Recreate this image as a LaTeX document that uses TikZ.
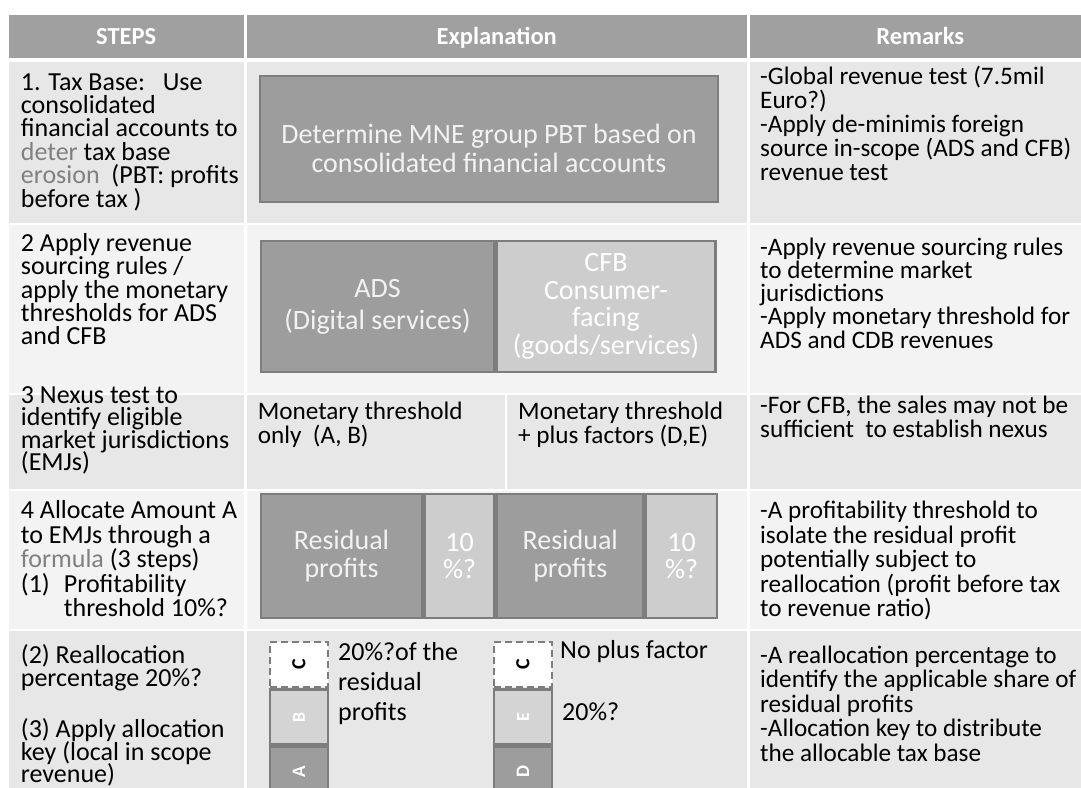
\documentclass[tikz,border=0pt]{standalone}
\usepackage{fontspec}
\setmainfont{Carlito}
\usepackage{tikz}
\definecolor{HeadGray}{RGB}{160,160,160}
\definecolor{RowDark}{RGB}{231,231,231}
\definecolor{RowLight}{RGB}{243,243,243}
\definecolor{BoxDark}{RGB}{157,157,157}
\definecolor{BoxLight}{RGB}{205,205,205}
\definecolor{StackLight}{RGB}{212,212,212}
\definecolor{BoxEdge}{RGB}{125,125,125}
\definecolor{BoxText}{RGB}{242,242,242}
\definecolor{SoftText}{RGB}{128,128,128}
% slide-like tight line spacing
\lineskiplimit=-100pt

\begin{document}
\begin{tikzpicture}[x=1pt, y=-1pt,
    headcell/.style={fill=HeadGray, text=white, inner sep=0pt, minimum height=43.5pt,
                     text height=16pt, text depth=0pt, anchor=base,
                     font=\bfseries\fontsize{24.5}{26}\selectfont},
    % texts are placed by the baseline of their last line
    txt/.style={anchor=base west, align=left, inner sep=0pt, text=black,
                font=\fontsize{26}{#1}\selectfont},
    txt/.default=24,
    rtxt/.style={txt, font=\fontsize{25.2}{#1}\selectfont},
    rtxt/.default=24,
    bigbox/.style={draw=BoxEdge, fill=BoxDark, line width=2.5pt, inner sep=0pt,
                   align=center, text=BoxText, font=\fontsize{28}{#1}\selectfont},
    bigbox/.default=28,
    smallbox/.style={bigbox=#1, fill=BoxLight, text=white},
    smallbox/.default=28,
    boxtxt/.style={anchor=base, align=center, inner sep=0pt, text=BoxText,
                   font=\fontsize{28}{29}\selectfont},
    stackb/.style={draw=BoxEdge, fill=StackLight, line width=2.5pt, inner sep=0pt,
                   minimum width=58pt, minimum height=55pt, text=white,
                   font=\bfseries\fontsize{18}{18}\selectfont},
    stacka/.style={stackb, fill=BoxDark, minimum height=50pt,
                   font=\bfseries\fontsize{19}{19}\selectfont},
    stackc/.style={stackb, fill=white, draw=BoxEdge, dash pattern=on 7pt off 4pt,
                   minimum height=45pt, text=black,
                   font=\bfseries\fontsize{20}{20}\selectfont}
  ]
  \clip (0,0) rectangle (1081,787);
  \fill[white] (0,0) rectangle (1081,787);

  % header
  \node[headcell, minimum width=235.5pt] (hsteps) at (126.25,44.5) {STEPS};
  \node[headcell, minimum width=500.5pt] (hexpl) at (496.75,44.5) {Explanation};
  \node[headcell, minimum width=341.5pt] (hrem) at (920.25,44.5) {Remarks};

  % row backgrounds
  \foreach \ytop/\ybot/\shade in {62/223/RowDark, 225/393/RowLight, 395/489/RowDark,
                                  491/629/RowLight, 631/800/RowDark} {
    \fill[\shade] (8.5,\ytop) rectangle (244,\ybot);
    \fill[\shade] (246.5,\ytop) rectangle (747,\ybot);
    \fill[\shade] (749.5,\ytop) rectangle (1095,\ybot);
  }
  \fill[white] (504.5,395) rectangle (506.5,489);

  % row 1
  \node[txt=23.4] (s1) at (20.7,207) {1. Tax Base:~~~Use\\consolidated\\financial accounts to\\{\color{SoftText}deter} tax base\\{\color{SoftText}erosion}~~(PBT: profits\\before tax )};
  \node[bigbox, minimum width=458pt, minimum height=126pt] (pbt) at (489,139) {};
  \node[boxtxt] (pbttext) at (489,172) {Determine MNE group PBT based on\\consolidated financial accounts};
  \node[rtxt=24.2] (r1) at (760,180.8) {-Global revenue test (7.5mil\\Euro?)\\-Apply de-minimis foreign\\source in-scope (ADS and CFB)\\revenue test};

  % row 2
  \node[txt=23.3] (s2) at (20.7,344.8) {2 Apply revenue\\sourcing rules /\\apply the monetary\\thresholds for ADS\\and CFB};
  \node[bigbox=32, minimum width=233pt, minimum height=131pt] (ads) at (377.5,306.5) {ADS\\(Digital services)};
  \node[smallbox=27.5, minimum width=219pt, minimum height=131pt, anchor=west] (cfb) at (ads.east) {CFB\\Consumer-\\facing\\(goods/services)};
  \node[rtxt=23.3] (r2) at (760,348.2) {-Apply revenue sourcing rules\\to determine market\\jurisdictions\\-Apply monetary threshold for\\ADS and CDB revenues};

  % row 3
  \node[txt=22.4] (s3) at (20.7,470.7) {3 Nexus test to\\identify eligible\\market jurisdictions\\(EMJs)};
  \node[rtxt] (e3a) at (257.6,443) {Monetary threshold\\only~~(A, B)};
  \node[rtxt] (e3b) at (518,443) {Monetary threshold\\+ plus factors (D,E)};
  \node[rtxt] (r3) at (760,437.8) {-For CFB, the sales may not be\\sufficient~~to establish nexus};

  % row 4
  \node[txt=24.5] (s4) at (20.7,616.8) {4 Allocate Amount A\\to EMJs through a\\{\color{SoftText}formula} (3 steps)\\\makebox[43pt][l]{(1)}Profitability\\\hspace*{43pt}threshold 10\%?};
  \node[bigbox=27.5, minimum width=161pt, minimum height=124pt] (res1) at (341.5,556) {Residual\\profits};
  \node[smallbox=27.5, minimum width=70pt, minimum height=124pt, anchor=west] (pct1) at (res1.east) {10\\\%?};
  \node[bigbox=27.5, minimum width=146.5pt, minimum height=124pt, anchor=west] (res2) at (pct1.east) {Residual\\profits};
  \node[smallbox=27.5, minimum width=71pt, minimum height=124pt, anchor=west] (pct2) at (res2.east) {10\\\%?};
  \node[rtxt=24.5] (r4) at (760,616.8) {-A profitability threshold to\\isolate the residual profit\\potentially subject to\\reallocation (profit before tax\\to revenue ratio)};

  % row 5
  \node[txt=22.5] (s5) at (20.7,782.7) {(2) Reallocation\\percentage 20\%?\\[29pt](3) Apply allocation\\key (local in scope\\revenue)};
  \node[stacka] (a1) at (299,772) {\rotatebox{90}{A}};
  \node[stackb, anchor=south] (b1) at (a1.north) {\rotatebox{90}{B}};
  \node[stackc, anchor=south] (c1) at (b1.north) {\rotatebox{90}{C}};
  \node[stacka] (a2) at (523,772) {\rotatebox{90}{D}};
  \node[stackb, anchor=south] (b2) at (a2.north) {\rotatebox{90}{E}};
  \node[stackc, anchor=south] (c2) at (b2.north) {\rotatebox{90}{C}};
  \node[txt=30] (e5a) at (338,720) {20\%?of the\\residual\\profits};
  \node[txt] (e5b) at (560,658) {No plus factor};
  \node[txt] (e5c) at (562,720) {20\%?};
  \node[rtxt=24.5] (r5) at (760,761) {-A reallocation percentage to\\identify the applicable share of\\residual profits\\-Allocation key to distribute\\the allocable tax base};
\end{tikzpicture}
\end{document}
